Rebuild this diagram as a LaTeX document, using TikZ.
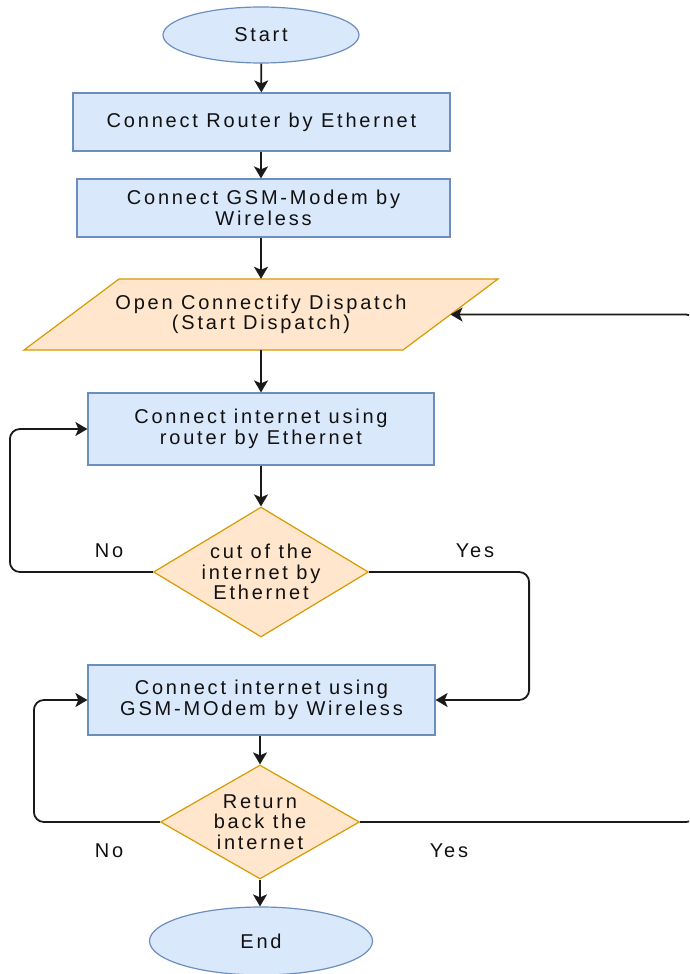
\documentclass[tikz,border=0pt]{standalone}
\usepackage{fontspec}
\setmainfont{Liberation Sans}[LetterSpace=14]
\usetikzlibrary{arrows.meta,shapes.geometric,calc}

\definecolor{bfill}{HTML}{DAE8FC}
\definecolor{bdraw}{HTML}{6C8EBF}
\definecolor{ofill}{HTML}{FFE6CC}
\definecolor{odraw}{HTML}{D79B00}
\definecolor{ink}{HTML}{111111}
\definecolor{wire}{HTML}{1A1A1A}

\tikzset{
  txt/.style={font=\fontsize{20}{20.5}\selectfont, text=ink, align=center},
  procbox/.style={txt, rectangle, draw=bdraw, fill=bfill, line width=1.2pt, inner sep=0pt},
  terminal/.style={txt, ellipse, draw=bdraw, fill=bfill, line width=1.2pt, inner sep=0pt},
  decision/.style={diamond, draw=odraw, fill=ofill, line width=1.2pt, inner sep=0pt},
  ioframe/.style={draw=odraw, fill=ofill, line width=1.2pt, line join=miter},
  conn/.style={draw=wire, line width=1.8pt, -{Stealth[length=12pt,width=14pt,inset=3pt]}},
  loopconn/.style={conn, rounded corners=10pt},
  answer/.style={txt}
}

\begin{document}
\begin{tikzpicture}[x=1pt,y=-1pt]
\useasboundingbox (0,0) rectangle (689,974);
\clip (0,0) rectangle (689,974);
\fill[white] (0,0) rectangle (689,974);

% main column
\node[terminal, minimum width=196pt, minimum height=56pt] (start) at (261,35) {Start};
\node[procbox, minimum width=377pt, minimum height=58pt] (box1) at (261.5,122) {Connect Router by Ethernet};
\node[procbox, minimum width=373pt, minimum height=58pt] (box2) at (263.5,208) {Connect GSM-Modem by\\Wireless};

% input/output step drawn as a parallelogram
\draw[ioframe] (119,279) -- (498,279) -- (403,350) -- (24,350) -- cycle;
\node[txt, minimum width=379pt, minimum height=71pt, inner sep=0pt] (para) at (261,314.5) {Open Connectify Dispatch\\(Start Dispatch)};
\coordinate (paraE) at (450.5,314.5);

\node[procbox, minimum width=346pt, minimum height=72pt] (box3) at (261,429) {Connect internet using\\router by Ethernet};
\node[decision, minimum width=215pt, minimum height=130pt,
      label={[txt]center:cut of the\\internet by\\Ethernet}] (dec1) at (261,572) {};
\node[procbox, minimum width=347pt, minimum height=70pt] (box4) at (261.5,700) {Connect internet using\\GSM-MOdem by Wireless};
\node[decision, minimum width=199pt, minimum height=114pt,
      label={[txt]center:Return\\back the\\internet}] (dec2) at (260,822) {};
\node[terminal, minimum width=223pt, minimum height=68pt] (end) at (261,941) {End};

% straight flow
\draw[conn] (start) -- (box1);
\draw[conn] (box1.south -| start.south) -- (start.south |- box2.north);
\draw[conn] (box2.south -| para.north) -- (para.north);
\draw[conn] (para.south) -- (box3.north);
\draw[conn] (box3.south) -- (box3.south |- dec1.north);
\draw[conn] (box4.south -| dec2.north) -- (dec2.north);
\draw[conn] (dec2.south) -- (dec2.south |- end.north);

% branches
\draw[loopconn] (dec1.west) -- ++(-143,0) |- (box3.west);
\draw[loopconn] (dec1.east) -- ++(160,0) |- (box4.east);
\draw[loopconn] (dec2.west) -- ++(-126,0) |- (box4.west);
\draw[loopconn] (dec2.east) -- ++(336,0) |- (paraE);

% branch labels
\node[answer] (no1) at (109,551) {No};
\node[answer] (yes1) at (475,551) {Yes};
\node[answer] (no2) at (109,851) {No};
\node[answer] (yes2) at (449,851) {Yes};
\end{tikzpicture}
\end{document}
